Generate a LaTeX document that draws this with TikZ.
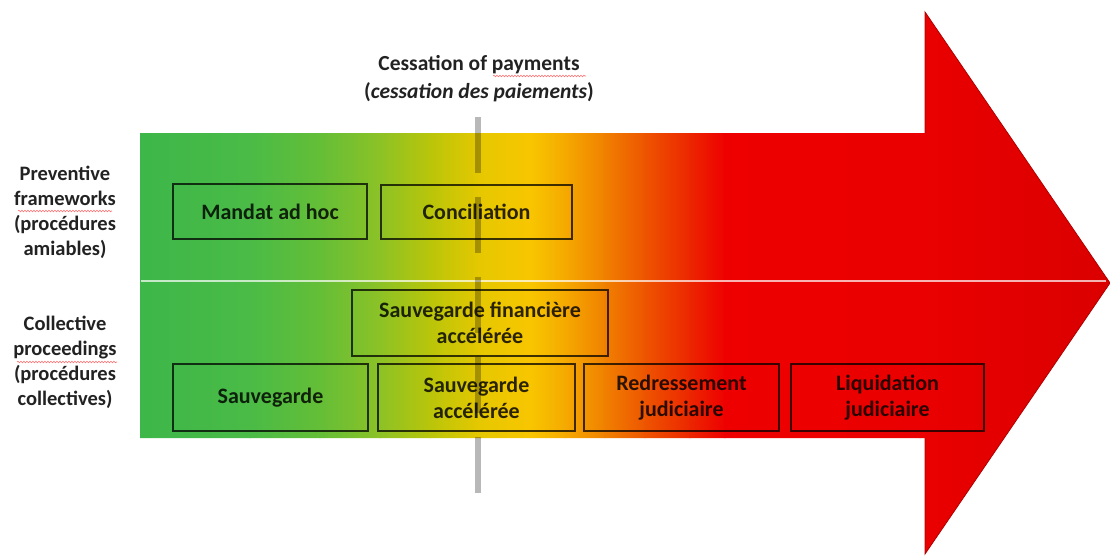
\documentclass[tikz,border=0pt]{standalone}
\usepackage{fontspec}
\setmainfont{Carlito}
\usetikzlibrary{decorations.pathmorphing}
\definecolor{c1}{RGB}{60,182,74}
\definecolor{c2}{RGB}{74,187,70}
\definecolor{c3}{RGB}{100,190,55}
\definecolor{c4}{RGB}{140,194,38}
\definecolor{c5}{RGB}{185,197,10}
\definecolor{c6}{RGB}{230,200,0}
\definecolor{c7}{RGB}{248,198,0}
\definecolor{c8}{RGB}{245,170,0}
\definecolor{c9}{RGB}{240,128,0}
\definecolor{c10}{RGB}{238,85,0}
\definecolor{c11}{RGB}{236,38,0}
\definecolor{c12}{RGB}{238,0,0}
\definecolor{c13}{RGB}{234,0,0}
\definecolor{c14}{RGB}{218,0,0}
\definecolor{labeltext}{RGB}{34,34,34}
\tikzset{
  procbox/.style={draw=black, draw opacity=0.75, line width=1.8pt, inner sep=0pt,
    align=center, text=black, text opacity=0.82, font=\bfseries\fontsize{22}{26}\selectfont},
  sidelabel/.style={align=center, text=labeltext, font=\bfseries\fontsize{20.5}{25}\selectfont},
  squiggle/.style={red, opacity=0.55, line width=0.6pt,
    decorate, decoration={snake, amplitude=0.8pt, segment length=3pt}}
}
\begin{document}
\begin{tikzpicture}[x=1pt,y=-1pt]
\useasboundingbox (0,0) rectangle (1110,555);
% arrow with gradient
\begin{scope}
  \clip (140,133) -- (925,133) -- (925,12) -- (1110,283) -- (925,554) -- (925,438) -- (140,438) -- cycle;
  \foreach \xa/\xb/\ca/\cb in {130/250/c1/c2, 250/320/c2/c3, 320/380/c3/c4, 380/430/c4/c5,
      430/480/c5/c6, 480/530/c6/c7, 530/565/c7/c8, 565/605/c8/c9, 605/645/c9/c10,
      645/690/c10/c11, 690/725/c11/c12, 725/920/c12/c13, 920/1115/c13/c14}
    {\shade[left color=\ca, right color=\cb] (\xa-0.6,0) rectangle (\xb+0.6,560);}
\end{scope}
\draw[line width=0.8pt, color=c14!80!black, line join=miter]
  (925,133) -- (925,12) -- (1110,283) -- (925,554) -- (925,438);
% white separator
\coordinate (sepL) at (141,281);
\coordinate (sepR) at (1106,281);
\draw[white, opacity=0.7, line width=1.4pt] (sepL) -- (sepR);
% cessation line
\coordinate (cesT) at (478,117);
\coordinate (cesB) at (478,497);
\draw[black, opacity=0.28, line width=6pt, dash pattern=on 56pt off 24pt] (cesT) -- (cesB);
% boxes
\node[procbox, minimum width=194pt, minimum height=55pt] (mandat) at (270,211.5) {Mandat ad hoc};
\node[procbox, minimum width=191pt, minimum height=54pt] (concil) at (476.5,212) {Conciliation};
\node[procbox, minimum width=256pt, minimum height=66pt] (sfa) at (480,323) {Sauvegarde financière\\accélérée};
\node[procbox, minimum width=195pt, minimum height=67pt] (sauv) at (270.5,397.5) {Sauvegarde};
\node[procbox, minimum width=197pt, minimum height=67pt] (sa) at (476.5,397.5) {Sauvegarde\\accélérée};
\node[procbox, minimum width=195pt, minimum height=67pt] (rj) at (681.5,397.5) {Redressement\\judiciaire};
\node[procbox, minimum width=193pt, minimum height=67pt] (lj) at (887.5,397.5) {Liquidation\\judiciaire};
% labels
\node[sidelabel] (prev) at (65,212) {Preventive\\frameworks\\(procédures\\amiables)};
\node[sidelabel] (coll) at (65,362) {Collective\\proceedings\\(procédures\\collectives)};
\node[align=center, text=labeltext, font=\bfseries\fontsize{21.5}{28}\selectfont] (title) at (479,79)
  {Cessation of payments\\(\textit{cessation des paiements})};
% spell-check marks
\draw[squiggle] (18,211) -- (112,211);
\draw[squiggle] (17,362) -- (117,362);
\draw[squiggle] (493,76) -- (586,76);
\end{tikzpicture}
\end{document}
